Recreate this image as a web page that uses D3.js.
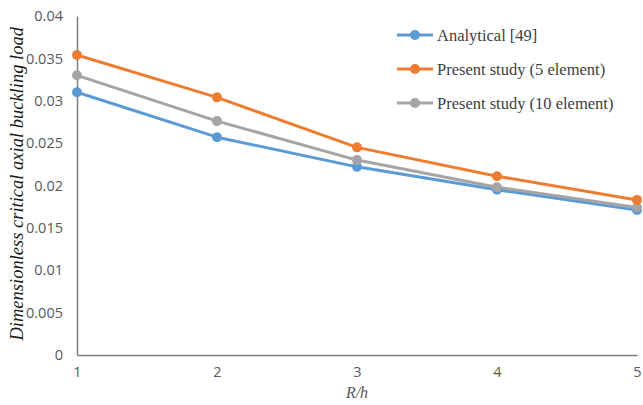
<!DOCTYPE html>
<html>
<head>
<meta charset="utf-8">
<script src="https://cdn.jsdelivr.net/npm/d3@7"></script>
<style>
  body { margin: 0; background: #fff; }
  svg { display: block; }
</style>
</head>
<body>
<div id="chart"></div>
<script>
var xValues = [1, 2, 3, 4, 5];
var yTicks = [0, 0.005, 0.01, 0.015, 0.02, 0.025, 0.03, 0.035, 0.04];
var seriesNames = ["Analytical [49]", "Present study (5 element)", "Present study (10 element)"];
var seriesColors = ["#5B9BD5", "#ED7D31", "#A5A5A5"];
var analytical = [0.0310, 0.0257, 0.0222, 0.0195, 0.0171];
var fiveElement = [0.0354, 0.0304, 0.0245, 0.0211, 0.0183];
var tenElement = [0.0330, 0.0276, 0.0230, 0.0198, 0.0174];

var seriesValues = [analytical, fiveElement, tenElement];
// blue under gray, orange on top
var drawOrder = [0, 2, 1];

var width = 643, height = 405;
var margin = { left: 77, right: 6, top: 16, bottom: 50 };

var svg = d3.select("#chart").append("svg")
  .attr("width", width)
  .attr("height", height);

var x = d3.scaleLinear().domain([1, 5]).range([margin.left, width - margin.right]);
var y = d3.scaleLinear().domain([0, 0.04]).range([height - margin.bottom, margin.top]);

// y axis
var yAxis = svg.append("g")
  .attr("transform", "translate(" + margin.left + ",0)")
  .call(d3.axisLeft(y).tickValues(yTicks).tickSize(0).tickPadding(14)
    .tickFormat(function(d) { return d === 0 ? "0" : String(+d.toFixed(3)); }));
yAxis.select(".domain").attr("stroke", "#7f7f7f").attr("stroke-width", 1.5);
yAxis.selectAll("text")
  .attr("fill", "#595959")
  .style("font-family", "'Open Sans', sans-serif")
  .style("font-size", "14.5px");

// x axis
var xAxis = svg.append("g")
  .attr("transform", "translate(0," + (height - margin.bottom) + ")")
  .call(d3.axisBottom(x).tickValues(xValues).tickSize(0).tickPadding(12)
    .tickFormat(d3.format("d")));
xAxis.select(".domain").attr("stroke", "#7f7f7f").attr("stroke-width", 1.5);
xAxis.selectAll("text")
  .attr("fill", "#595959")
  .style("font-family", "'Open Sans', sans-serif")
  .style("font-size", "14.5px");

// axis titles
svg.append("text")
  .attr("x", x(3))
  .attr("y", 398)
  .attr("text-anchor", "middle")
  .attr("fill", "#595959")
  .style("font-family", "'Liberation Serif', serif")
  .style("font-style", "italic")
  .style("font-size", "16px")
  .text("R/h");

svg.append("text")
  .attr("transform", "translate(23," + y(0.0202) + ") rotate(-90)")
  .attr("text-anchor", "middle")
  .attr("fill", "#1a1a1a")
  .style("font-family", "'Liberation Serif', serif")
  .style("font-style", "italic")
  .style("font-size", "18.5px")
  .text("Dimensionless critical axial buckling load");

// lines and markers
var line = d3.line()
  .x(function(d, i) { return x(xValues[i]); })
  .y(function(d) { return y(d); });

drawOrder.forEach(function(k) {
  var g = svg.append("g");
  g.append("path")
    .datum(seriesValues[k])
    .attr("d", line)
    .attr("fill", "none")
    .attr("stroke", seriesColors[k])
    .attr("stroke-width", 3)
    .attr("stroke-linejoin", "round");
  g.selectAll("circle")
    .data(seriesValues[k])
    .enter().append("circle")
    .attr("cx", function(d, i) { return x(xValues[i]); })
    .attr("cy", function(d) { return y(d); })
    .attr("r", 5)
    .attr("fill", seriesColors[k]);
});

// legend
var legend = svg.append("g").attr("transform", "translate(397,35)");
seriesNames.forEach(function(name, i) {
  var row = legend.append("g").attr("transform", "translate(0," + (i * 34) + ")");
  row.append("line")
    .attr("x1", 0).attr("x2", 36)
    .attr("stroke", seriesColors[i]).attr("stroke-width", 3);
  row.append("circle")
    .attr("cx", 18).attr("r", 5).attr("fill", seriesColors[i]);
  row.append("text")
    .attr("x", 40).attr("y", 5.5)
    .attr("fill", "#404040")
    .style("font-family", "'Liberation Serif', serif")
    .style("font-size", "16.5px")
    .text(name);
});
</script>
</body>
</html>
